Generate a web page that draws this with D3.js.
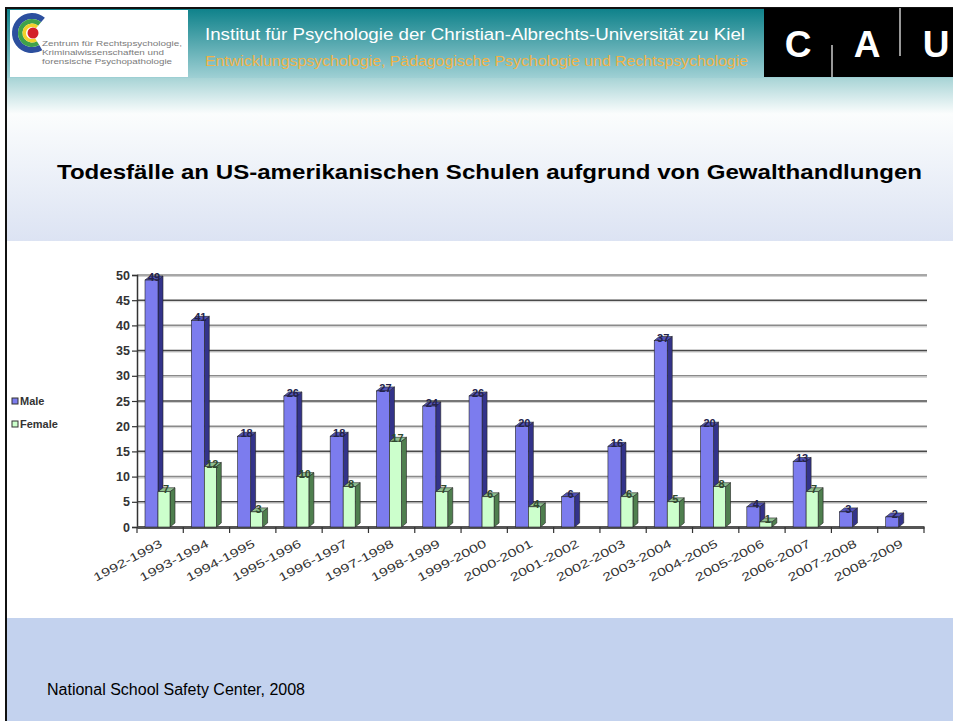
<!DOCTYPE html>
<html>
<head>
<meta charset="utf-8">
<script src="https://cdn.jsdelivr.net/npm/d3@7"></script>
<style>
  body { margin: 0; background: #fff; }
  svg { display: block; font-family: "Liberation Sans", Arial, sans-serif; }
</style>
</head>
<body>
<div id="chart"></div>
<script>
const categories = ['1992-1993', '1993-1994', '1994-1995', '1995-1996', '1996-1997', '1997-1998',
  '1998-1999', '1999-2000', '2000-2001', '2001-2002', '2002-2003', '2003-2004', '2004-2005',
  '2005-2006', '2006-2007', '2007-2008', '2008-2009'];
const male = [49, 41, 18, 26, 18, 27, 24, 26, 20, 6, 16, 37, 20, 4, 13, 3, 2];
const female = [7, 12, 3, 10, 8, 17, 7, 6, 4, 0, 6, 5, 8, 1, 7, 0, 0];
const yTicks = [0, 5, 10, 15, 20, 25, 30, 35, 40, 45, 50];

const W = 953, H = 721;
const svg = d3.select('#chart').append('svg')
  .attr('width', W)
  .attr('height', H);

const defs = svg.append('defs');
const g1 = defs.append('linearGradient').attr('id', 'head').attr('x1', 0).attr('y1', 0).attr('x2', 0).attr('y2', 1);
g1.append('stop').attr('offset', '0%').attr('stop-color', '#0f828b');
g1.append('stop').attr('offset', '100%').attr('stop-color', '#9fd0d4');
const g2 = defs.append('linearGradient').attr('id', 'band').attr('x1', 0).attr('y1', 0).attr('x2', 0).attr('y2', 1);
g2.append('stop').attr('offset', '0%').attr('stop-color', '#a8d4d6');
g2.append('stop').attr('offset', '22%').attr('stop-color', '#fbfdfd');
g2.append('stop').attr('offset', '100%').attr('stop-color', '#dce3f3');

// Page background bands
svg.append('rect').attr('x', 7).attr('y', 9).attr('width', W - 7).attr('height', 69).attr('fill', 'url(#head)');
svg.append('rect').attr('x', 7).attr('y', 78).attr('width', W - 7).attr('height', 163).attr('fill', 'url(#band)');
svg.append('rect').attr('x', 7).attr('y', 618).attr('width', W - 7).attr('height', H - 618).attr('fill', '#c3d2ee');
// borders
svg.append('rect').attr('x', 5).attr('y', 7).attr('width', W - 5).attr('height', 2).attr('fill', '#111');
svg.append('rect').attr('x', 5).attr('y', 7).attr('width', 2).attr('height', H - 7).attr('fill', '#111');

// Left logo
const logo = svg.append('g');
logo.append('rect').attr('x', 10).attr('y', 10).attr('width', 178).attr('height', 67).attr('fill', '#fff');
const arc = d3.arc().startAngle(2.6).endAngle(2 * Math.PI + 0.7);
const rings = [[14, 20, '#2c4f9e'], [9.5, 14, '#3fa24a'], [6, 9.5, '#f2d12a']];
rings.forEach(r => {
  logo.append('path')
    .attr('transform', 'translate(32,33)')
    .attr('d', arc.innerRadius(r[0]).outerRadius(r[1])())
    .attr('fill', r[2]);
});
logo.append('circle').attr('cx', 33).attr('cy', 33).attr('r', 5.5).attr('fill', '#d4202a');
[['Zentrum für Rechtspsychologie,', 140], ['Kriminalwissenschaften und', 122], ['forensische Psychopathologie', 130]]
  .forEach((d, i) => {
    logo.append('text')
      .attr('x', 42)
      .attr('y', 46 + i * 9)
      .attr('font-size', 8)
      .attr('fill', '#7a7a7a')
      .attr('textLength', d[1]).attr('lengthAdjust', 'spacingAndGlyphs')
      .text(d[0]);
  });

// Header texts
svg.append('text').attr('x', 205).attr('y', 40)
  .attr('font-size', 16).attr('fill', '#fff')
  .attr('textLength', 540).attr('lengthAdjust', 'spacingAndGlyphs')
  .text('Institut für Psychologie der Christian-Albrechts-Universität  zu Kiel');
svg.append('text').attr('x', 205).attr('y', 66)
  .attr('font-size', 15).attr('fill', '#f0b348')
  .attr('textLength', 543).attr('lengthAdjust', 'spacingAndGlyphs')
  .text('Entwicklungspsychologie, Pädagogische Psychologie und Rechtspsychologie');

// CAU logo
const cau = svg.append('g');
cau.append('rect').attr('x', 764).attr('y', 8).attr('width', W - 764).attr('height', 69).attr('fill', '#000');
[['C', 798], ['A', 867], ['U', 936]].forEach(d => {
  cau.append('text').attr('x', d[1]).attr('y', 57)
    .attr('text-anchor', 'middle')
    .attr('font-size', 37).attr('font-weight', 'bold').attr('fill', '#fff')
    .text(d[0]);
});
cau.append('line').attr('x1', 832).attr('x2', 832).attr('y1', 45).attr('y2', 77).attr('stroke', '#fff').attr('stroke-width', 1.2);
cau.append('line').attr('x1', 900).attr('x2', 900).attr('y1', 8).attr('y2', 56).attr('stroke', '#fff').attr('stroke-width', 1.2);

// Title
svg.append('text').attr('x', 57).attr('y', 179)
  .attr('font-size', 21).attr('font-weight', 'bold').attr('fill', '#000')
  .attr('textLength', 865).attr('lengthAdjust', 'spacingAndGlyphs')
  .text('Todesfälle an US-amerikanischen Schulen  aufgrund von Gewalthandlungen');

// Chart
const x = d3.scaleBand().domain(categories).range([137, 924]);
const y = d3.scaleLinear().domain([0, 50]).range([527, 275]);
const dx = 5, dy = 4;

const chart = svg.append('g');

// gridlines
chart.selectAll('.grid')
  .data(yTicks.slice(1))
  .enter().append('line')
  .attr('x1', 137).attr('x2', 927)
  .attr('y1', d => y(d)).attr('y2', d => y(d))
  .attr('stroke', (d, i) => i % 2 ? '#8a8a8a' : '#4a4a4a')
  .attr('stroke-width', 1.6);
chart.selectAll('.grid2')
  .data(yTicks.slice(1))
  .enter().append('line')
  .attr('x1', 137).attr('x2', 927)
  .attr('y1', d => y(d) + 1.5).attr('y2', d => y(d) + 1.5)
  .attr('stroke', '#cfcfcf')
  .attr('stroke-width', 1);

// y axis
const yAxis = chart.append('g')
  .attr('transform', 'translate(137,0)')
  .call(d3.axisLeft(y).tickValues(yTicks).tickSize(5).tickPadding(2));
yAxis.select('.domain').attr('stroke', '#333').attr('stroke-width', 1.5);
yAxis.selectAll('.tick line').attr('stroke', '#333').attr('stroke-width', 1.2);
yAxis.selectAll('.tick text')
  .attr('font-family', '"Liberation Sans", Arial, sans-serif')
  .attr('font-size', 12.5).attr('font-weight', 'bold').attr('fill', '#333');

// x axis floor
const xAxis = chart.append('g')
  .attr('transform', 'translate(0,527)')
  .call(d3.axisBottom(x).tickSize(0).tickFormat(''));
xAxis.select('.domain').attr('stroke', '#555').attr('stroke-width', 3);
chart.selectAll('.xtick')
  .data(categories.concat(['end']))
  .enter().append('line')
  .attr('x1', (d, i) => 137 + i * x.bandwidth())
  .attr('x2', (d, i) => 137 + i * x.bandwidth())
  .attr('y1', 527).attr('y2', 533)
  .attr('stroke', '#333').attr('stroke-width', 1.2);

chart.selectAll('.xlabel')
  .data(categories)
  .enter().append('text')
  .attr('transform', d => `translate(${x(d) + x.bandwidth() / 2 + 3},546) rotate(-28)`)
  .attr('text-anchor', 'end')
  .attr('font-size', 11.5).attr('fill', '#333')
  .attr('textLength', 76).attr('lengthAdjust', 'spacingAndGlyphs')
  .text(d => d);

// 3D bars
function bar3d(g, x0, w, v, face, side, top) {
  const yt = y(v), yb = y(0);
  g.append('path')
    .attr('d', `M${x0 + w},${yb} L${x0 + w + dx},${yb - dy} L${x0 + w + dx},${yt - dy} L${x0 + w},${yt} Z`)
    .attr('fill', side).attr('stroke', '#222').attr('stroke-width', 0.6);
  g.append('path')
    .attr('d', `M${x0},${yt} L${x0 + dx},${yt - dy} L${x0 + w + dx},${yt - dy} L${x0 + w},${yt} Z`)
    .attr('fill', top).attr('stroke', '#222').attr('stroke-width', 0.6);
  g.append('rect')
    .attr('x', x0).attr('y', yt).attr('width', w).attr('height', yb - yt)
    .attr('fill', face).attr('stroke', '#222').attr('stroke-width', 0.6);
}

const bars = chart.append('g');
categories.forEach((c, i) => {
  const b = x(c);
  bar3d(bars, b + 8, 13, male[i], '#7c7cee', '#33338a', '#5252b8');
  if (female[i] > 0) bar3d(bars, b + 21, 12, female[i], '#ccffcc', '#4f7f4f', '#8fbf8f');
});

// value labels
const labels = chart.append('g')
  .attr('font-size', 11).attr('font-weight', 'bold').attr('text-anchor', 'middle');
categories.forEach((c, i) => {
  labels.append('text')
    .attr('x', x(c) + 17)
    .attr('y', y(male[i]) + 1)
    .attr('fill', '#22224a')
    .text(male[i]);
  if (female[i] > 0) {
    labels.append('text')
      .attr('x', x(c) + 29)
      .attr('y', y(female[i]) + 1)
      .attr('fill', '#2e4a2e')
      .text(female[i]);
  }
});

// legend
const legend = svg.append('g');
[['Male', '#7c7cee', 404], ['Female', '#ccffcc', 427]].forEach(d => {
  legend.append('rect').attr('x', 12).attr('y', d[2] - 6).attr('width', 6).attr('height', 6)
    .attr('fill', d[1]).attr('stroke', '#333').attr('stroke-width', 1);
  legend.append('text').attr('x', 20).attr('y', d[2] + 1)
    .attr('font-size', 11).attr('font-weight', 'bold').attr('fill', '#333')
    .text(d[0]);
});

// source
svg.append('text').attr('x', 47).attr('y', 695)
  .attr('font-size', 16).attr('fill', '#000')
  .attr('textLength', 258).attr('lengthAdjust', 'spacingAndGlyphs')
  .text('National School Safety Center, 2008');
</script>
</body>
</html>
